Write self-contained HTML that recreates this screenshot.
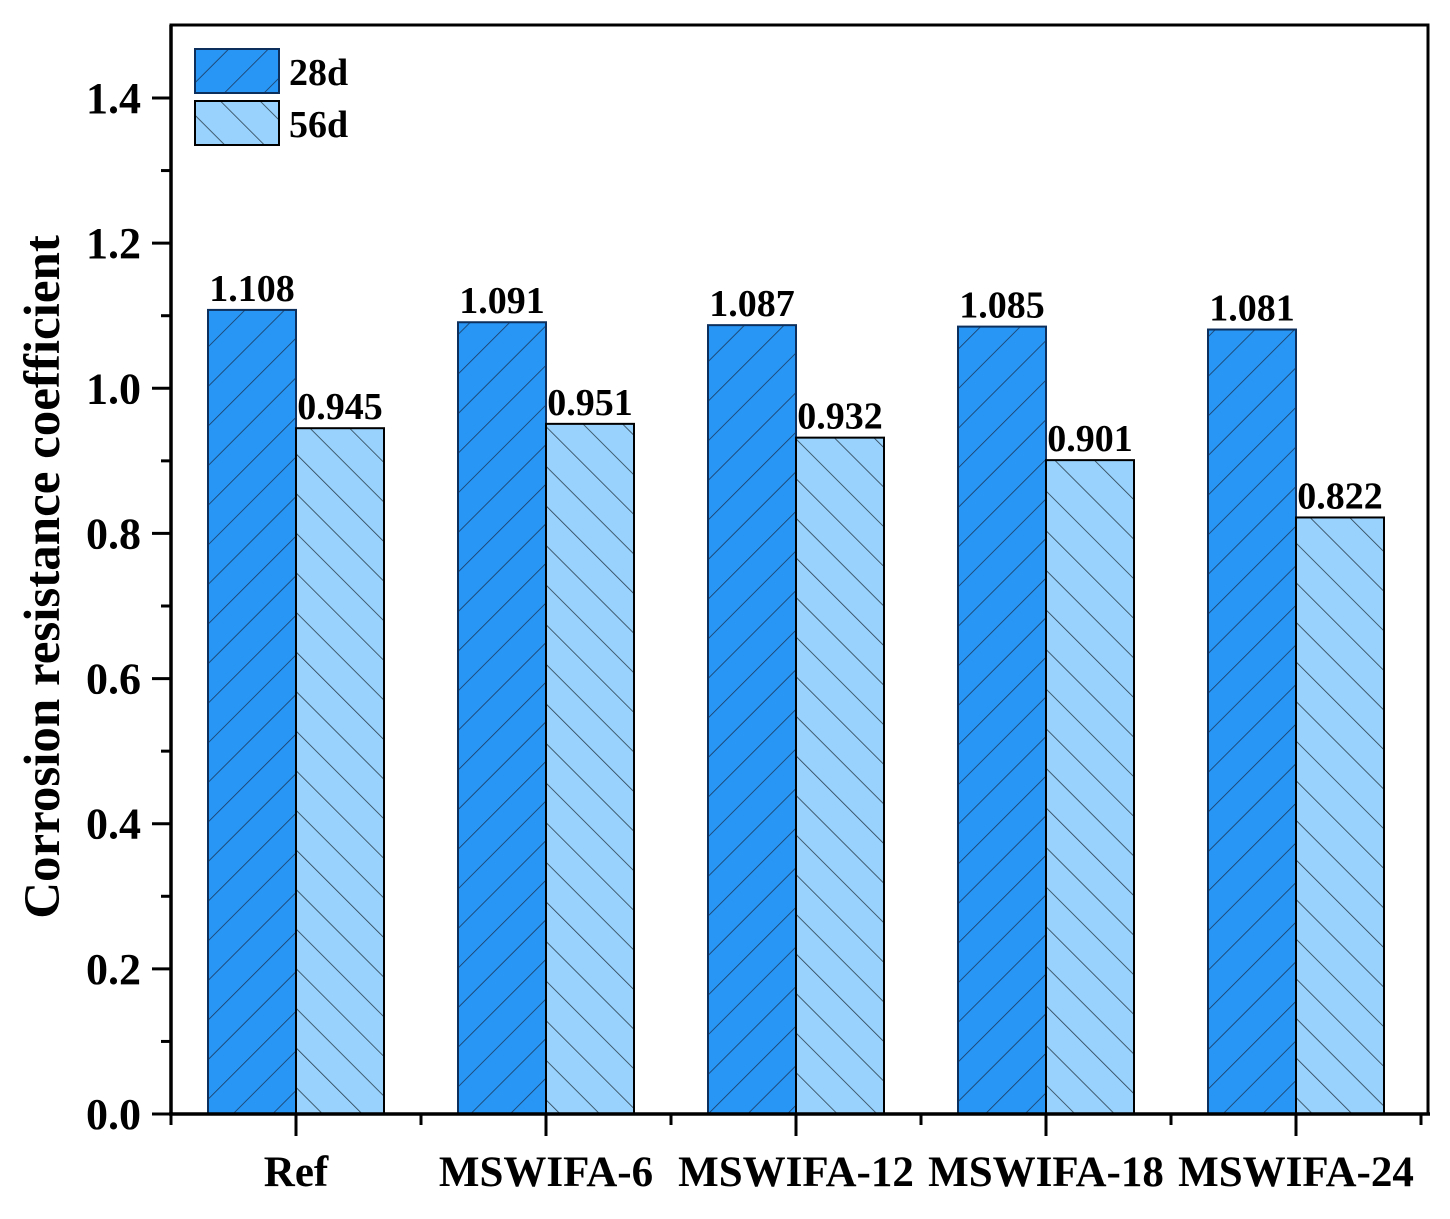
<!DOCTYPE html>
<html><head><meta charset="utf-8"><style>
body{margin:0;background:#fff}
svg text{font-family:"Liberation Serif",serif;font-weight:bold;fill:#000}
</style></head><body>
<svg id="chart" width="1450" height="1214" viewBox="0 0 1450 1214" xmlns="http://www.w3.org/2000/svg">
<defs>
<pattern id="h28" patternUnits="userSpaceOnUse" width="28" height="28" patternTransform="rotate(45)">
<rect width="28" height="28" fill="#2896f5"/><line x1="0" y1="0" x2="0" y2="28" stroke="#1a3a60" stroke-width="1.6"/></pattern>
<pattern id="h56" patternUnits="userSpaceOnUse" width="28" height="28" patternTransform="rotate(-45)">
<rect width="28" height="28" fill="#99d2fc"/><line x1="0" y1="0" x2="0" y2="28" stroke="#2a4050" stroke-width="1.6"/></pattern>
</defs>
<g id="plot"></g>
</svg>
<script>
const categories=["Ref","MSWIFA-6","MSWIFA-12","MSWIFA-18","MSWIFA-24"];
const values28=[1.108,1.091,1.087,1.085,1.081];
const values56=[0.945,0.951,0.932,0.901,0.822];
const yTicks=[0.0,0.2,0.4,0.6,0.8,1.0,1.2,1.4];
const L=171,R=1428,T=25,B=1114;
const y=v=>B-v/1.4*(B-98);
const xc=i=>296+i*250;
const bw=88;
const g=document.getElementById('plot');
const NS="http://www.w3.org/2000/svg";
function mk(t,a,p){const e=document.createElementNS(NS,t);for(const k in a)e.setAttribute(k,a[k]);(p||g).appendChild(e);return e;}
let e=mk('rect',{x:L,y:T,width:R-L,height:B-T,fill:'none',stroke:'#000','stroke-width':3});


categories.forEach((c,i)=>{
  let b=mk('rect',{x:xc(i)-bw,y:y(values28[i]),width:bw,height:B-y(values28[i]),fill:'url(#h28)',stroke:'#0d2f5c','stroke-width':2});
  
  
  let b2=mk('rect',{x:xc(i),y:y(values56[i]),width:bw,height:B-y(values56[i]),fill:'url(#h56)',stroke:'#000','stroke-width':2});
  
  
  let t=mk('text',{x:xc(i)-bw/2,y:y(values28[i])-9,'text-anchor':'middle','font-size':38});
  t.textContent=values28[i].toFixed(3);
  
  
  let t2=mk('text',{x:xc(i)+bw/2,y:y(values56[i])-9,'text-anchor':'middle','font-size':38});
  t2.textContent=values56[i].toFixed(3);
  
  
  let xl=mk('text',{x:xc(i),y:1186,'text-anchor':'middle','font-size':43});
  xl.textContent=c;
  
  
  let tk=mk('line',{x1:xc(i),y1:B,x2:xc(i),y2:B+22,stroke:'#000','stroke-width':3});
  
  
});
for(let i=0;i<=5;i++){let m=mk('line',{x1:L+i*250,y1:B,x2:L+i*250,y2:B+11,stroke:'#000','stroke-width':3});

}
e=mk('line',{x1:L,y1:T,x2:L,y2:B,stroke:'#000','stroke-width':3.5});


e=mk('line',{x1:L-2,y1:B,x2:R+2,y2:B,stroke:'#000','stroke-width':3.5});


yTicks.forEach(v=>{
  let l=mk('line',{x1:L-19,y1:y(v),x2:L,y2:y(v),stroke:'#000','stroke-width':3});
  
  
  if(v<1.4){let m=mk('line',{x1:L-10,y1:y(v+0.1),x2:L,y2:y(v+0.1),stroke:'#000','stroke-width':3});
  
  }
  let t=mk('text',{x:141,y:y(v)+15,'text-anchor':'end','font-size':44});
  t.textContent=v.toFixed(1);
  
  
});
e=mk('text',{x:0,y:0,'text-anchor':'middle','font-size':51,transform:'translate(59,577) rotate(-90)'});
e.textContent='Corrosion resistance coefficient';


e=mk('rect',{x:195,y:49,width:84,height:44,fill:'url(#h28)',stroke:'#0d2f5c','stroke-width':2});


e=mk('rect',{x:195,y:101,width:84,height:44,fill:'url(#h56)',stroke:'#000','stroke-width':2});


e=mk('text',{x:289,y:85,'font-size':38});e.textContent='28d';


e=mk('text',{x:289,y:137,'font-size':38});e.textContent='56d';


</script>
</body></html>
